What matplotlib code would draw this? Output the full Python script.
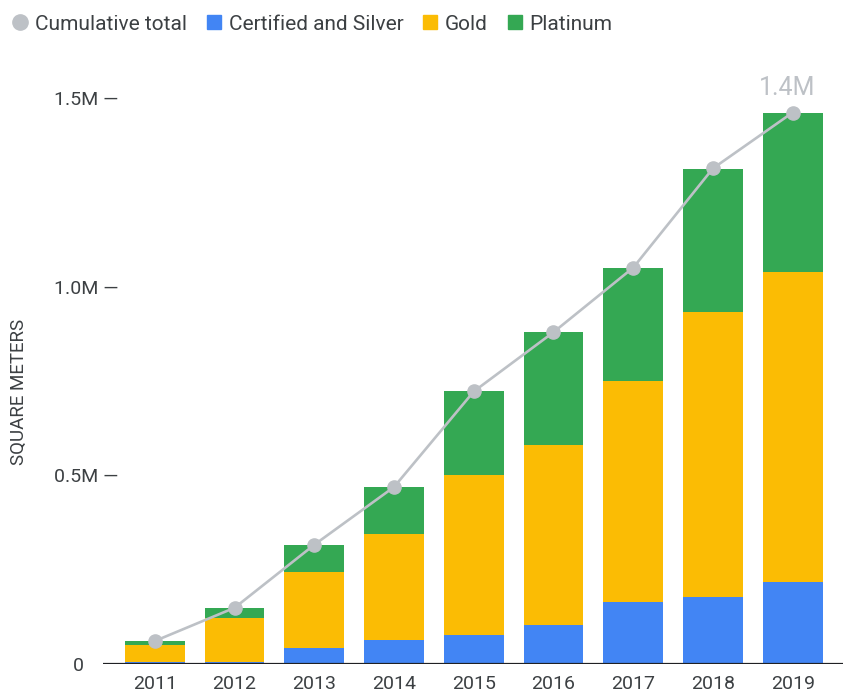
import numpy as np
import matplotlib.pyplot as plt
from matplotlib.lines import Line2D

plt.rcParams['font.family'] = ['Roboto', 'DejaVu Sans']

# Datos (millones de metros cuadrados)
years = ['2011', '2012', '2013', '2014', '2015', '2016', '2017', '2018', '2019']
certified_silver = [0.005, 0.005, 0.043, 0.064, 0.077, 0.103, 0.165, 0.178, 0.218]
gold = [0.046, 0.116, 0.201, 0.281, 0.423, 0.476, 0.586, 0.755, 0.820]
platinum = [0.011, 0.028, 0.072, 0.125, 0.223, 0.300, 0.299, 0.379, 0.423]
cumulative = [0.061, 0.149, 0.316, 0.469, 0.722, 0.879, 1.050, 1.313, 1.461]
last_label = '1.4M'

ytick_vals = [0, 0.5, 1.0, 1.5]
ytick_labels = ['0       ', '0.5M \u2014', '1.0M \u2014', '1.5M \u2014']

BLUE = '#4285f4'
YELLOW = '#fbbc04'
GREEN = '#34a853'
GREY = '#bdc1c6'
TEXT = '#3c4043'

fig = plt.figure(figsize=(8.48, 6.94), dpi=100)
ax = fig.add_axes([0.1215, 0.0432, 0.8725, 0.8703])

x = np.arange(len(years))
w = 0.75
cs = np.array(certified_silver)
gd = np.array(gold)
pt = np.array(platinum)

ax.bar(x, cs, w, color=BLUE, zorder=2)
ax.bar(x, gd, w, bottom=cs, color=YELLOW, zorder=2)
ax.bar(x, pt, w, bottom=cs + gd, color=GREEN, zorder=2)

ax.plot(x, cumulative, color=GREY, lw=1.9, marker='o', markersize=9.5, zorder=3)
ax.annotate(last_label, (x[-1], cumulative[-1]), xytext=(-4, 9), textcoords='offset points',
            ha='center', va='bottom', fontsize=18, color=GREY)

ax.axhline(0, color='#202124', lw=1.6, zorder=4)

ax.set_xlim(-0.65, 8.63)
ax.set_ylim(0, 1.6)
ax.set_xticks(x)
ax.set_xticklabels(years)
ax.set_yticks(ytick_vals)
ax.set_yticklabels(ytick_labels)
ax.tick_params(axis='x', length=0, pad=8, labelsize=14, labelcolor=TEXT)
ax.tick_params(axis='y', length=0, pad=-11, labelsize=14, labelcolor=TEXT)
for s in ax.spines.values():
    s.set_visible(False)

ax.set_ylabel('SQUARE METERS', fontsize=13.5, color=TEXT)
ax.yaxis.set_label_coords(-0.102, 0.45)

handles = [
    Line2D([], [], marker='o', color='none', markerfacecolor=GREY, markeredgecolor=GREY, markersize=11),
    Line2D([], [], marker='s', color='none', markerfacecolor=BLUE, markeredgecolor=BLUE, markersize=10),
    Line2D([], [], marker='s', color='none', markerfacecolor=YELLOW, markeredgecolor=YELLOW, markersize=10),
    Line2D([], [], marker='s', color='none', markerfacecolor=GREEN, markeredgecolor=GREEN, markersize=10),
]
fig.legend(handles, ['Cumulative total', 'Certified and Silver', 'Gold', 'Platinum'],
           loc='upper left', bbox_to_anchor=(-0.008, 1.006), ncol=4, frameon=False,
           fontsize=15, labelcolor=TEXT, handlelength=0.8, handletextpad=0.3,
           columnspacing=0.9)

fig.savefig('out.png', dpi=100)
